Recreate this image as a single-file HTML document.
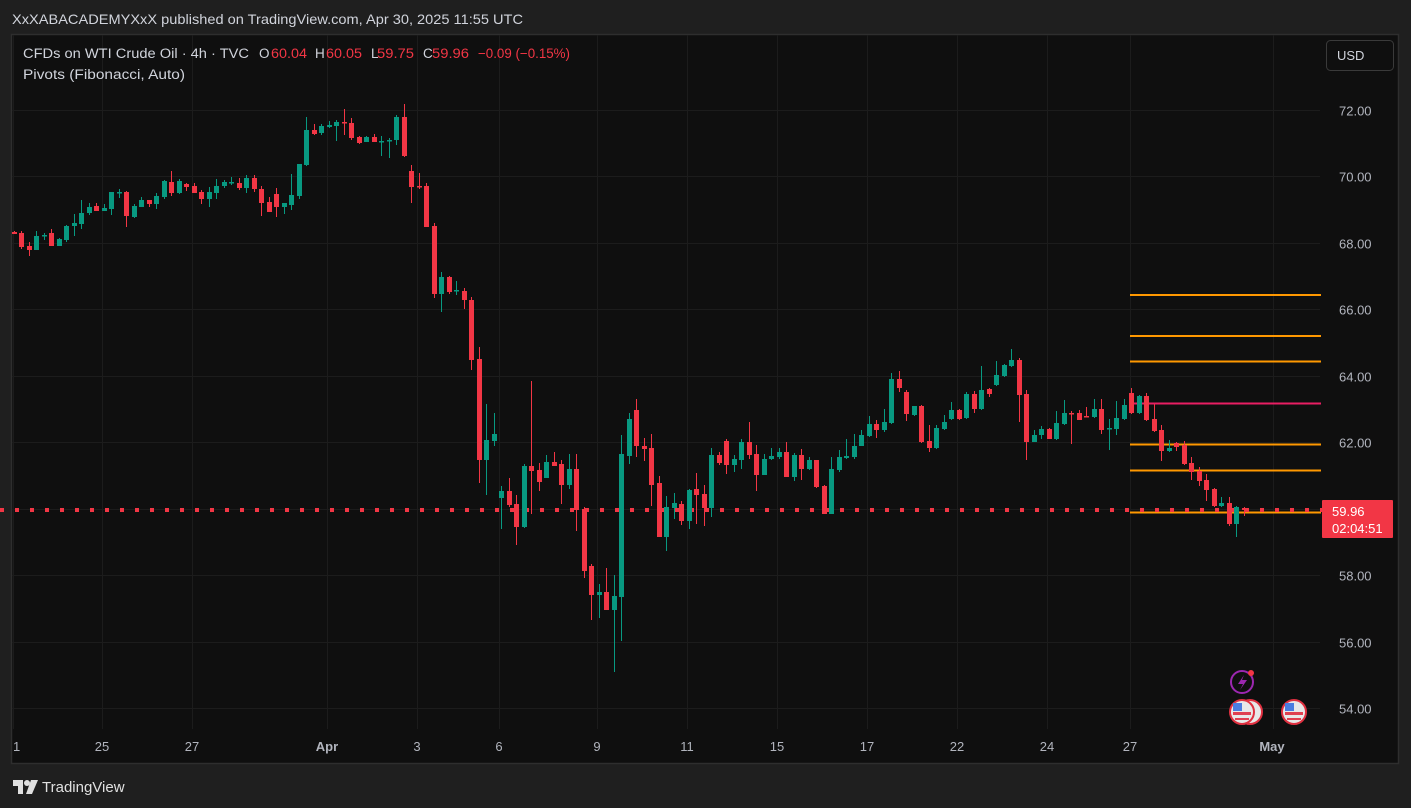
<!DOCTYPE html>
<html><head><meta charset="utf-8">
<style>
html,body{margin:0;padding:0;background:#1f1f1f;width:1411px;height:808px;overflow:hidden;font-family:"Liberation Sans",sans-serif;}
svg{position:absolute;left:0;top:0;}
</style></head>
<body>
<svg id="s" width="1411" height="808" xmlns="http://www.w3.org/2000/svg" font-family="Liberation Sans, sans-serif">
<rect x="0" y="0" width="1411" height="808" fill="#1f1f1f"/>
<text x="12" y="24" fill="#d1d4dc" font-size="14" textLength="511" lengthAdjust="spacingAndGlyphs">XxXABACADEMYXxX published on TradingView.com, Apr 30, 2025 11:55 UTC</text>
<rect x="11.5" y="34.5" width="1387" height="729" fill="#0f0f0f" stroke="#2e2e2e" stroke-width="1.5"/>
<g id="grid" stroke="#1c1c1c" stroke-width="1"></g>
<g id="pv"></g>
<g id="c"></g>
<g id="axis" fill="#b2b5be" font-size="13"></g>
<g font-size="13.5" fill="#d1d4dc">
<text x="23" y="58" textLength="226" lengthAdjust="spacingAndGlyphs">CFDs on WTI Crude Oil · 4h · TVC</text>
<text x="259" y="58">O</text><text x="271" y="58" fill="#f23645" textLength="36" lengthAdjust="spacingAndGlyphs">60.04</text>
<text x="315" y="58">H</text><text x="326" y="58" fill="#f23645" textLength="36" lengthAdjust="spacingAndGlyphs">60.05</text>
<text x="371" y="58">L</text><text x="377" y="58" fill="#f23645" textLength="37" lengthAdjust="spacingAndGlyphs">59.75</text>
<text x="423" y="58">C</text><text x="432" y="58" fill="#f23645" textLength="37" lengthAdjust="spacingAndGlyphs">59.96</text>
<text x="478" y="58" fill="#f23645" textLength="92" lengthAdjust="spacingAndGlyphs">−0.09 (−0.15%)</text>
<text x="23" y="79" textLength="162" lengthAdjust="spacingAndGlyphs">Pivots (Fibonacci, Auto)</text>
</g>
<rect x="1326.5" y="40.5" width="67" height="30" rx="4" fill="#0f0f0f" stroke="#3a3a3a"/>
<text x="1337" y="60" font-size="13" fill="#d1d4dc">USD</text>
<rect x="1322" y="500" width="71" height="38" fill="#f23645" rx="1"/>
<text x="1332" y="516" font-size="13" fill="#fff">59.96</text>
<text x="1332" y="533" font-size="13" fill="#fff">02:04:51</text>
<circle cx="1242" cy="682" r="11" fill="none" stroke="#9c27b0" stroke-width="2"/>
<path d="M1244 675 L1238 684 L1243 684 L1240 690 L1247 680 L1242 680 Z" fill="#9c27b0"/>
<circle cx="1251" cy="673" r="3" fill="#f23645"/>
<circle cx="1250" cy="712" r="12" fill="#e8e8e8" stroke="#e03040" stroke-width="2"/>
<circle cx="1242" cy="712" r="12" fill="#e8e8e8" stroke="#e03040" stroke-width="2"/>
<rect x="1233" y="712" width="18" height="3" fill="#e04050"/><rect x="1235" y="718" width="14" height="2" fill="#e04050"/>
<rect x="1233" y="703" width="9" height="8" fill="#4a7ce0"/>
<circle cx="1294" cy="712" r="12" fill="#e8e8e8" stroke="#e03040" stroke-width="2"/>
<rect x="1285" y="712" width="18" height="3" fill="#e04050"/><rect x="1287" y="718" width="14" height="2" fill="#e04050"/>
<rect x="1285" y="703" width="9" height="8" fill="#4a7ce0"/>
<rect x="13" y="780" width="10" height="6" fill="#e0e0e0"/><rect x="18" y="780" width="5" height="14" fill="#e0e0e0"/>
<circle cx="27" cy="783" r="3" fill="#e0e0e0"/><path d="M31 780 L38 780 L32 794 L26 794 Z" fill="#e0e0e0"/>
<text x="42" y="792" font-size="15" fill="#e0e0e0">TradingView</text>
</svg>
<script>
var NS="http://www.w3.org/2000/svg";
function el(p,t,a,txt){var e=document.createElementNS(NS,t);for(var k in a)e.setAttribute(k,a[k]);if(txt!==undefined)e.textContent=txt;document.getElementById(p).appendChild(e);return e;}
function py(p){return 110+(72-p)*33.22;}
for(var p=54;p<=72;p+=2){var y=Math.round(py(p))+0.5;el("grid","line",{x1:12,x2:1320,y1:y,y2:y});
el("axis","text",{x:1339,y:y+5},p.toFixed(2));}
var vx=[13,102,192,327,417,499,597,687,777,867,957,1047,1130,1273];
vx.forEach(function(x){el("grid","line",{x1:x+0.5,x2:x+0.5,y1:35,y2:729});});
var tl=[["1",13],["25",102],["27",192],["Apr",327,1],["3",417],["6",499],["9",597],["11",687],["15",777],["17",867],["22",957],["24",1047],["27",1130],["May",1272,1]];
tl.forEach(function(t){var a={x:t[1],y:751,"text-anchor":t[1]<20?"start":"middle"};if(t[2])a["font-weight"]="bold";el("axis","text",a,t[0]);});
[[295,"#ff9800"],[336,"#ff9800"],[361.5,"#ff9800"],[403.5,"#e91e63"],[444.5,"#ff9800"],[470.5,"#ff9800"],[512.5,"#ff9800"]].forEach(function(l){
el("pv","line",{x1:1130,x2:1321,y1:l[0],y2:l[0],stroke:l[1],"stroke-width":2});});
var D=[[232,234,231,234],[233,247,231,249],[246,250,242,256],[250,236,231,250],[236,235,233,240],[233,246,229,246],[246,239,238,246],[240,226,225,242],[226,223,214,236],[224,213,200,229],[213,207,203,215],[206,211,203,211],[211,208,204,211],[209,192,192,215],[193,192,189,198],[192,216,191,227],[217,206,204,218],[207,200,197,207],[200,204,200,207],[204,196,193,209],[197,181,180,199],[182,193,171,196],[193,181,179,194],[184,187,183,191],[186,193,183,193],[192,199,190,204],[199,192,187,207],[193,186,179,199],[186,182,180,188],[183,182,177,185],[183,188,178,190],[188,178,175,193],[178,189,175,192],[189,203,186,216],[202,212,197,212],[194,207,188,217],[207,203,203,214],[205,195,174,210],[196,164,164,199],[165,130,117,166],[130,134,124,135],[133,126,124,135],[127,125,121,128],[126,122,120,141],[122,123,109,135],[123,138,118,140],[137,143,136,144],[142,137,136,142],[137,142,134,142],[142,141,136,156],[141,140,138,158],[140,117,115,145],[117,156,104,157],[171,187,165,203],[186,187,173,189],[186,227,183,227],[226,294,223,298],[294,277,272,312],[277,292,276,294],[291,290,281,295],[291,300,288,309],[300,360,297,370],[359,460,347,483],[460,440,404,495],[441,434,413,446],[498,491,486,529],[491,505,478,507],[504,527,495,545],[527,466,464,528],[466,471,381,514],[470,482,463,491],[478,462,455,478],[462,466,452,466],[464,485,460,504],[485,469,454,489],[469,510,454,531],[509,571,507,578],[566,595,564,620],[595,592,584,618],[592,610,568,610],[610,596,575,672],[597,454,435,641],[456,419,413,464],[410,446,399,457],[446,449,438,461],[448,485,434,506],[483,537,476,537],[537,507,496,551],[508,503,493,519],[504,521,501,525],[521,490,489,529],[489,495,473,524],[494,508,485,526],[508,455,448,517],[455,463,452,465],[441,465,439,474],[465,459,455,472],[460,442,439,469],[442,455,422,459],[454,475,445,491],[475,459,454,475],[459,456,448,460],[457,452,448,459],[452,477,442,477],[477,455,453,481],[455,469,449,480],[469,460,457,470],[460,487,460,488],[486,514,485,514],[514,469,457,514],[470,457,450,472],[458,456,439,459],[457,446,434,459],[446,435,430,446],[436,424,416,437],
[424,430,420,438],[430,422,409,432],[423,379,373,424],[379,388,371,392],[392,414,390,421],[415,406,406,416],[406,442,405,443],[441,448,425,452],[448,428,425,449],[429,422,415,430],[419,410,402,420],[410,419,409,420],[418,394,392,419],[394,409,391,413],[409,390,366,410],[389,394,388,397],[385,375,361,386],[376,365,364,377],[366,360,349,367],[360,395,358,422],[394,442,390,460],[442,435,430,442],[435,429,426,439],[429,439,428,439],[439,423,411,440],[424,413,400,425],[413,414,411,444],[413,420,410,420],[416,417,407,417],[417,409,399,418],[409,430,399,434],[429,428,419,450],[429,418,401,435],[419,405,399,420],[393,413,388,414],[413,396,395,414],[396,420,393,421],[419,431,404,432],[430,451,425,461],[451,448,440,452],[443,447,442,451],[445,464,441,465],[463,472,457,480],[471,481,467,486],[480,490,474,501],[489,506,488,507],[506,503,497,507],[503,524,497,526],[524,507,506,537],[508,510,507,516]];
for(var x=0;x<1322;x+=15){el("pv","rect",{x:x,y:508,width:4,height:4,fill:"#f23645"});}
D.forEach(function(d,i){var cx=Math.round(13.5+7.5*i);var g=d[1]<d[0];var col=g?"#089981":"#f23645";
var top=Math.min(d[0],d[1]),bot=Math.max(d[0],d[1]);if(bot-top<1.5)bot=top+1.5;
el("c","rect",{x:cx,y:d[2],width:1,height:Math.max(1,d[3]-d[2]),fill:col});
el("c","rect",{x:cx-2,y:top,width:5,height:bot-top,fill:col});});
</script>
</body></html>
